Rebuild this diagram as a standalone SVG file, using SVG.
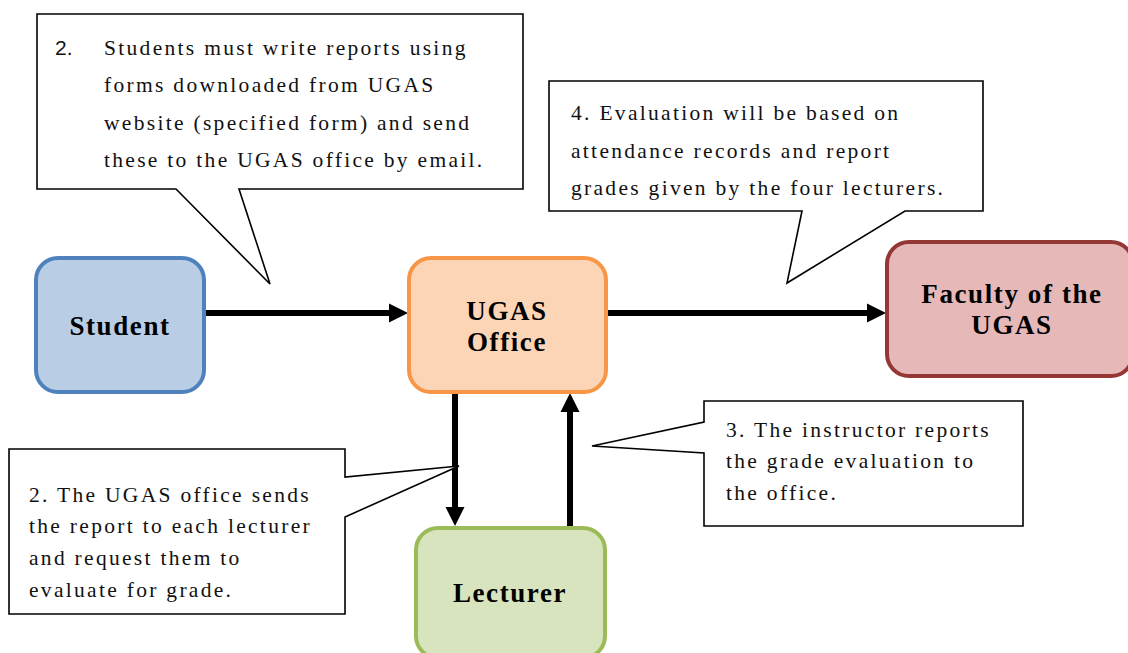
<svg xmlns="http://www.w3.org/2000/svg" width="1128" height="653" viewBox="0 0 1128 653">
<style>
.call{fill:#fff;stroke:#000;stroke-width:1.6;stroke-linejoin:miter}
.t{font-family:"Liberation Serif","Times New Roman",serif;font-size:21.5px;letter-spacing:2.3px;fill:#111}
.n{font-family:"Liberation Serif","Times New Roman",serif;font-size:27px;font-weight:bold;letter-spacing:1.6px;fill:#000;text-anchor:middle}
.conn{stroke:#000;stroke-width:6;fill:none;marker-end:url(#ah)}
</style>
<defs>
<marker id="ah" markerUnits="userSpaceOnUse" markerWidth="20" markerHeight="20" viewBox="0 0 20 20" refX="1" refY="10" orient="auto">
<path d="M0,0.5 L19,10 L0,19.5 Z" fill="#000"/>
</marker>
</defs>
<rect width="1128" height="653" fill="#fff"/>

<g id="connectors">
<line class="conn" x1="205" y1="313" x2="390" y2="313"/>
<line class="conn" x1="607" y1="313" x2="868" y2="313"/>
<line class="conn" x1="455" y1="393" x2="455" y2="508"/>
<line class="conn" x1="570" y1="527" x2="570" y2="411"/>
</g>

<g id="student">
<rect x="36" y="258" width="168" height="134" rx="22" fill="#b9cde5" stroke="#4f81bd" stroke-width="4"/>
<text class="n" x="120" y="335">Student</text>
</g>

<g id="office">
<rect x="409" y="258" width="197" height="134" rx="22" fill="#fbd5b5" stroke="#f79646" stroke-width="4"/>
<text class="n" x="507" y="320">UGAS</text>
<text class="n" x="507" y="351">Office</text>
</g>

<g id="faculty">
<rect x="887" y="242" width="246" height="134" rx="22" fill="#e6b9b8" stroke="#953735" stroke-width="4"/>
<text class="n" x="1012" y="303">Faculty of the</text>
<text class="n" x="1012" y="334">UGAS</text>
</g>

<g id="lecturer">
<rect x="416" y="528" width="189" height="130" rx="22" fill="#d7e4bd" stroke="#9bbb59" stroke-width="4"/>
<text class="n" x="510" y="602">Lecturer</text>
</g>

<g id="callout-students">
<path class="call" d="M37,14 H523 V189 H239 L270,284 L176,189 H37 Z"/>
<text x="55" y="55" style="font-family:'Liberation Sans',Arial,sans-serif;font-size:21px;fill:#111">2.</text>
<text class="t" x="104" y="55">Students must write reports using</text>
<text class="t" x="104" y="92">forms downloaded from UGAS</text>
<text class="t" x="104" y="130">website (specified form) and send</text>
<text class="t" x="104" y="167">these to the UGAS office by email.</text>
</g>

<g id="callout-evaluation">
<path class="call" d="M549,81 H983 V211 H905 L787,283 L802,211 H549 Z"/>
<text class="t" x="571" y="120">4. Evaluation will be based on</text>
<text class="t" x="571" y="158">attendance records and report</text>
<text class="t" x="571" y="195">grades given by the four lecturers.</text>
</g>

<g id="callout-instructor">
<path class="call" d="M704,401 H1023 V526 H704 V453 L592,446 L704,422 Z"/>
<text class="t" x="726" y="437">3. The instructor reports</text>
<text class="t" x="726" y="468">the grade evaluation to</text>
<text class="t" x="726" y="500">the office.</text>
</g>

<g id="callout-office">
<path class="call" d="M9,449 H345 V477 L459,466 L345,517 V614 H9 Z"/>
<text class="t" x="29" y="502">2. The UGAS office sends</text>
<text class="t" x="29" y="533">the report to each lecturer</text>
<text class="t" x="29" y="565">and request them to</text>
<text class="t" x="29" y="597">evaluate for grade.</text>
</g>
</svg>
